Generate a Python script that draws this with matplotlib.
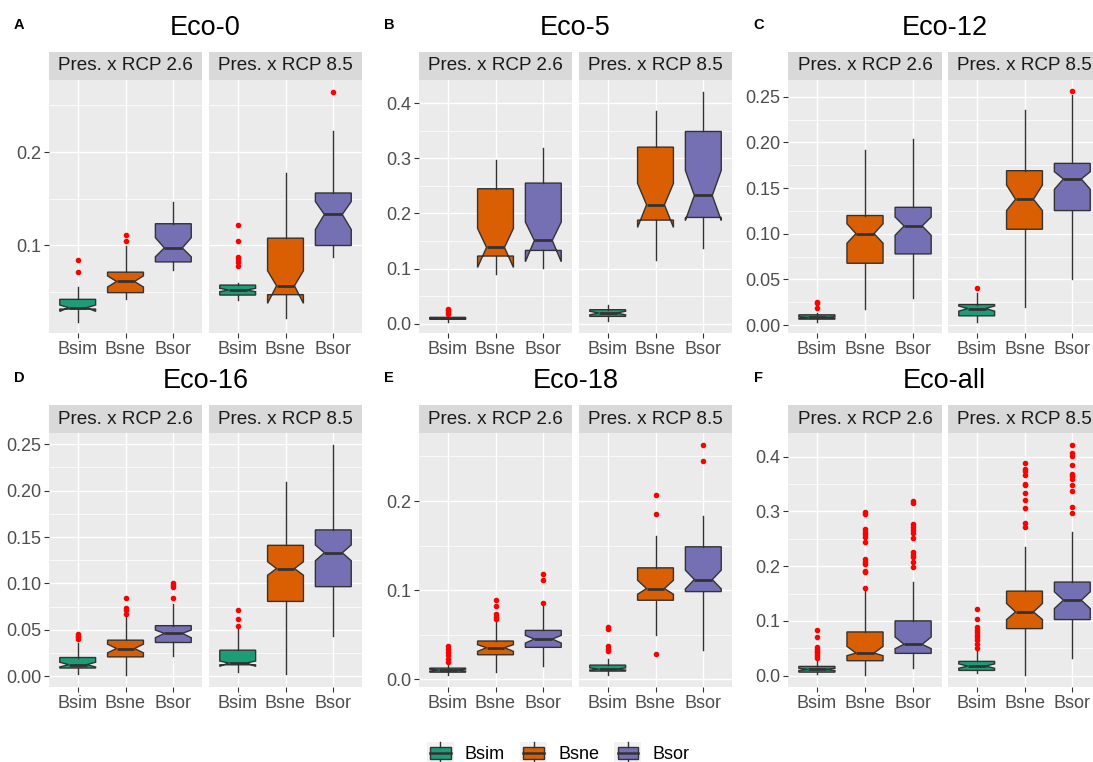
import numpy as np
import matplotlib
matplotlib.use("Agg")
import matplotlib.pyplot as plt
from matplotlib.patches import Rectangle
from matplotlib.lines import Line2D
from matplotlib.legend_handler import HandlerBase
from matplotlib.ticker import FixedLocator, MultipleLocator

plt.rcParams['font.family'] = ['Liberation Sans', 'DejaVu Sans']

groups = ["Bsim", "Bsne", "Bsor"]
facets = ["Pres. x RCP 2.6", "Pres. x RCP 8.5"]
colors = ["#1B9E77", "#D95F02", "#7570B3"]

# each box: (low whisker, q1, notch low, median, notch high, q3, high whisker)
eco0_26 = [(0.018, 0.0314, 0.0289, 0.0328, 0.0357, 0.0418, 0.055),
           (0.042, 0.049, 0.055, 0.061, 0.067, 0.071, 0.099),
           (0.073, 0.082, 0.0875, 0.097, 0.108, 0.123, 0.146)]
eco0_85 = [(0.041, 0.0464, 0.050, 0.0518, 0.0536, 0.0571, 0.0596),
           (0.0214, 0.0468, 0.0375, 0.0564, 0.0725, 0.1075, 0.178),
           (0.0868, 0.0996, 0.1168, 0.133, 0.1468, 0.156, 0.223)]
eco0_out26 = [[0.0836, 0.0707], [0.111, 0.1046], []]
eco0_out85 = [[0.1214, 0.1046, 0.0875, 0.0846, 0.082, 0.0775], [], [0.265]]

eco5_26 = [(0.004, 0.008, 0.0088, 0.0097, 0.0106, 0.0115, 0.0145),
           (0.0906, 0.1227, 0.102, 0.1384, 0.1728, 0.2447, 0.2973),
           (0.1009, 0.1329, 0.1124, 0.151, 0.1843, 0.255, 0.3184)]
eco5_85 = [(0.0042, 0.0133, 0.016, 0.0193, 0.0226, 0.0254, 0.0344),
           (0.1148, 0.1879, 0.1746, 0.2157, 0.2544, 0.3202, 0.386),
           (0.1372, 0.1927, 0.1873, 0.2326, 0.278, 0.3486, 0.4211)]
eco5_out26 = [[0.018, 0.021, 0.024, 0.026], [], []]
eco5_out85 = [[], [], []]

eco12_26 = [(0.004, 0.0066, 0.0075, 0.0084, 0.0093, 0.0113, 0.013),
            (0.0179, 0.0678, 0.0897, 0.1002, 0.111, 0.12, 0.1917),
            (0.0295, 0.078, 0.0984, 0.1086, 0.1184, 0.129, 0.2034)]
eco12_85 = [(0.004, 0.0102, 0.0153, 0.0182, 0.021, 0.0226, 0.035),
            (0.0204, 0.105, 0.1254, 0.1378, 0.1534, 0.1691, 0.2354),
            (0.051, 0.1254, 0.1487, 0.16, 0.168, 0.1771, 0.252)]
eco12_out26 = [[0.0255, 0.024, 0.0186], [], []]
eco12_out85 = [[0.0412], [], [0.2558]]

eco16_26 = [(0.0022, 0.009, 0.0101, 0.0127, 0.0152, 0.0203, 0.0355),
            (0.001, 0.021, 0.0253, 0.030, 0.0347, 0.039, 0.065),
            (0.0217, 0.0365, 0.0416, 0.0463, 0.0499, 0.0546, 0.078)]
eco16_85 = [(0.0047, 0.0125, 0.0108, 0.0145, 0.0165, 0.0282, 0.0517),
            (0.0022, 0.0807, 0.1089, 0.1161, 0.1234, 0.1411, 0.2098),
            (0.0438, 0.0966, 0.1245, 0.1331, 0.1415, 0.1577, 0.2496)]
eco16_out26 = [[0.046, 0.044, 0.042, 0.040], [0.084, 0.0735, 0.0715, 0.067],
               [0.1005, 0.098, 0.0965, 0.084]]
eco16_out85 = [[0.0716, 0.0615, 0.0546], [], []]

eco18_26 = [(0.0045, 0.0082, 0.0094, 0.0105, 0.0116, 0.0127, 0.0165),
            (0.0082, 0.0277, 0.0315, 0.0356, 0.039, 0.0431, 0.0655),
            (0.0146, 0.036, 0.0408, 0.0453, 0.0494, 0.055, 0.0831)]
eco18_85 = [(0.0052, 0.0094, 0.0105, 0.0116, 0.013, 0.0161, 0.0225),
            (0.0502, 0.0888, 0.0955, 0.1019, 0.1112, 0.1251, 0.161),
            (0.0326, 0.0985, 0.1015, 0.112, 0.1225, 0.1487, 0.1835)]
eco18_out26 = [[0.037, 0.0345, 0.031, 0.027, 0.0232, 0.0195],
               [0.0888, 0.0828, 0.0738, 0.070, 0.068], [0.1187, 0.112, 0.0861]]
eco18_out85 = [[0.0588, 0.0569, 0.0371, 0.0345, 0.0315], [0.2067, 0.1854, 0.0281],
               [0.2633, 0.2449]]

ecoall_26 = [(0.0024, 0.0067, 0.0095, 0.0116, 0.0137, 0.0171, 0.0281),
             (0.0006, 0.0275, 0.0366, 0.0415, 0.0537, 0.080, 0.155),
             (0.014, 0.0409, 0.0495, 0.0574, 0.0708, 0.1002, 0.171)]
ecoall_85 = [(0.0049, 0.0098, 0.0137, 0.0177, 0.0217, 0.0263, 0.0464),
             (0.0018, 0.0861, 0.1026, 0.1166, 0.1319, 0.1545, 0.2345),
             (0.0324, 0.1026, 0.1227, 0.138, 0.1533, 0.171, 0.2632)]
ecoall_out26 = [[0.083, 0.0708, 0.0525, 0.049, 0.046, 0.043, 0.040, 0.036, 0.033],
                [0.298, 0.2956, 0.2675, 0.263, 0.259, 0.254, 0.2437, 0.2131, 0.2082,
                 0.204, 0.1918, 0.1887, 0.160],
                [0.3194, 0.315, 0.2773, 0.2724, 0.2663, 0.2602, 0.2522, 0.2266,
                 0.2205, 0.2162, 0.2082, 0.199]]
ecoall_out85 = [[0.1215, 0.1044, 0.0892, 0.0843, 0.080, 0.0751, 0.0708, 0.0647,
                 0.0586, 0.0513],
                [0.3884, 0.378, 0.3744, 0.3658, 0.3505, 0.3475, 0.3334, 0.32, 0.306,
                 0.2785, 0.2711],
                [0.422, 0.4067, 0.4018, 0.3853, 0.3682, 0.364, 0.3597, 0.3487,
                 0.3365, 0.3078, 0.2968]]

panels = [
    ("A", "Eco-0", eco0_26, eco0_85, eco0_out26, eco0_out85, [0.1, 0.2], "%.1f"),
    ("B", "Eco-5", eco5_26, eco5_85, eco5_out26, eco5_out85, [0, 0.1, 0.2, 0.3, 0.4], "%.1f"),
    ("C", "Eco-12", eco12_26, eco12_85, eco12_out26, eco12_out85,
     [0, 0.05, 0.1, 0.15, 0.2, 0.25], "%.2f"),
    ("D", "Eco-16", eco16_26, eco16_85, eco16_out26, eco16_out85,
     [0, 0.05, 0.1, 0.15, 0.2, 0.25], "%.2f"),
    ("E", "Eco-18", eco18_26, eco18_85, eco18_out26, eco18_out85, [0, 0.1, 0.2], "%.1f"),
    ("F", "Eco-all", ecoall_26, ecoall_85, ecoall_out26, ecoall_out85,
     [0, 0.1, 0.2, 0.3, 0.4], "%.1f"),
]

W, H = 1093, 762
fig = plt.figure(figsize=(W / 100, H / 100), dpi=100)

# pixel layout of the facet panels
col_x = [(49, 202, 209, 362), (419, 572, 579, 732), (788, 942, 948, 1101)]
row_y = [(52, 80, 333), (405, 433, 687)]
letter_x = [19, 389, 759]
edge = "#333333"


def to_stats(box, fl):
    lo, q1, cl, med, ch, q3, hi = box
    return dict(whislo=lo, q1=q1, cilo=cl, med=med, cihi=ch, q3=q3, whishi=hi, fliers=fl)


def style_axis(ax, ticks, fmt, ylim, left):
    ax.set_facecolor("#EBEBEB")
    for s in ax.spines.values():
        s.set_visible(False)
    ax.set_xlim(0.4, 3.6)
    ax.set_ylim(*ylim)
    ax.set_xticks([1, 2, 3])
    ax.set_xticklabels(groups)
    ax.yaxis.set_major_locator(FixedLocator(ticks))
    step = ticks[1] - ticks[0]
    ax.yaxis.set_minor_locator(MultipleLocator(step / 2))
    ax.set_yticklabels([fmt % t for t in ticks])
    ax.grid(True, which="major", color="white", lw=1.0)
    ax.grid(True, which="minor", axis="y", color="white", lw=0.5)
    ax.set_axisbelow(True)
    ax.tick_params(axis="both", which="major", length=3.5, width=0.8, color=edge,
                   labelcolor="#4D4D4D", labelsize=13, pad=2)
    ax.tick_params(axis="y", which="minor", length=0)
    if not left:
        ax.tick_params(axis="y", which="both", left=False, labelleft=False)


for i, (letter, title, b26, b85, o26, o85, ticks, fmt) in enumerate(panels):
    r, c = divmod(i, 3)
    xa0, xa1, xb0, xb1 = col_x[c]
    ys, y0, y1 = row_y[r]
    lows = [b[0] for b in b26 + b85] + [v for f in o26 + o85 for v in f]
    highs = [b[6] for b in b26 + b85] + [v for f in o26 + o85 for v in f]
    lo, hi = min(lows), max(highs)
    pad = (hi - lo) * 0.05
    ylim = (lo - pad, hi + pad)
    for k, (x0, x1, boxes, outs) in enumerate([(xa0, xa1, b26, o26), (xb0, xb1, b85, o85)]):
        ax = fig.add_axes([x0 / W, 1 - y1 / H, (x1 - x0) / W, (y1 - y0) / H])
        stats = [to_stats(b, f) for b, f in zip(boxes, outs)]
        bp = ax.bxp(stats, positions=[1, 2, 3], widths=0.75, shownotches=True,
                    showcaps=False, patch_artist=True,
                    boxprops=dict(edgecolor=edge, linewidth=1.0),
                    whiskerprops=dict(color=edge, linewidth=1.0),
                    medianprops=dict(color=edge, linewidth=2.0),
                    flierprops=dict(marker="o", markerfacecolor="red",
                                    markeredgecolor="red", markersize=3.0))
        for patch, col in zip(bp["boxes"], colors):
            patch.set_facecolor(col)
        style_axis(ax, ticks, fmt, ylim, k == 0)
        sh = (y0 - ys) / (y1 - y0)
        ax.add_patch(Rectangle((0, 1), 1, sh, transform=ax.transAxes, clip_on=False,
                               facecolor="#D9D9D9", edgecolor="none"))
        ax.text(0.5, 1 + sh / 2, facets[k], transform=ax.transAxes, ha="center",
                va="center", fontsize=13.6, color="#1A1A1A")
    fig.text((xa0 + xb1) / 2 / W, 1 - (ys - 24) / H, title, ha="center", va="center",
             fontsize=19.5)
    fig.text(letter_x[c] / W, 1 - (ys - 27) / H, letter, ha="center", va="center",
             fontsize=10.5, fontweight="bold")


class BoxKey(HandlerBase):
    def create_artists(self, legend, orig_handle, xdescent, ydescent, width, height,
                       fontsize, trans):
        x0, y0 = -xdescent, -ydescent
        cx = x0 + width / 2
        bg = Rectangle((x0, y0), width, height, facecolor="#F2F2F2", edgecolor="none",
                       transform=trans)
        box = Rectangle((cx - width * 0.38, y0 + height * 0.22), width * 0.76,
                        height * 0.56, facecolor=orig_handle.get_facecolor(),
                        edgecolor=edge, lw=1.0, transform=trans)
        med = Line2D([cx - width * 0.38, cx + width * 0.38], [y0 + height / 2] * 2,
                     color=edge, lw=1.8, transform=trans)
        w1 = Line2D([cx, cx], [y0, y0 + height * 0.22], color=edge, lw=1.0, transform=trans)
        w2 = Line2D([cx, cx], [y0 + height * 0.78, y0 + height], color=edge, lw=1.0,
                    transform=trans)
        return [bg, box, med, w1, w2]


handles = [Rectangle((0, 0), 1, 1, facecolor=col) for col in colors]
fig.legend(handles, groups, handler_map={Rectangle: BoxKey()}, loc="center",
           bbox_to_anchor=(558 / W, 1 - 753 / H), ncol=3, frameon=False, fontsize=13,
           handlelength=1.5, handleheight=1.5, handletextpad=0.6, columnspacing=0.85)

fig.savefig("out.png", dpi=100)
